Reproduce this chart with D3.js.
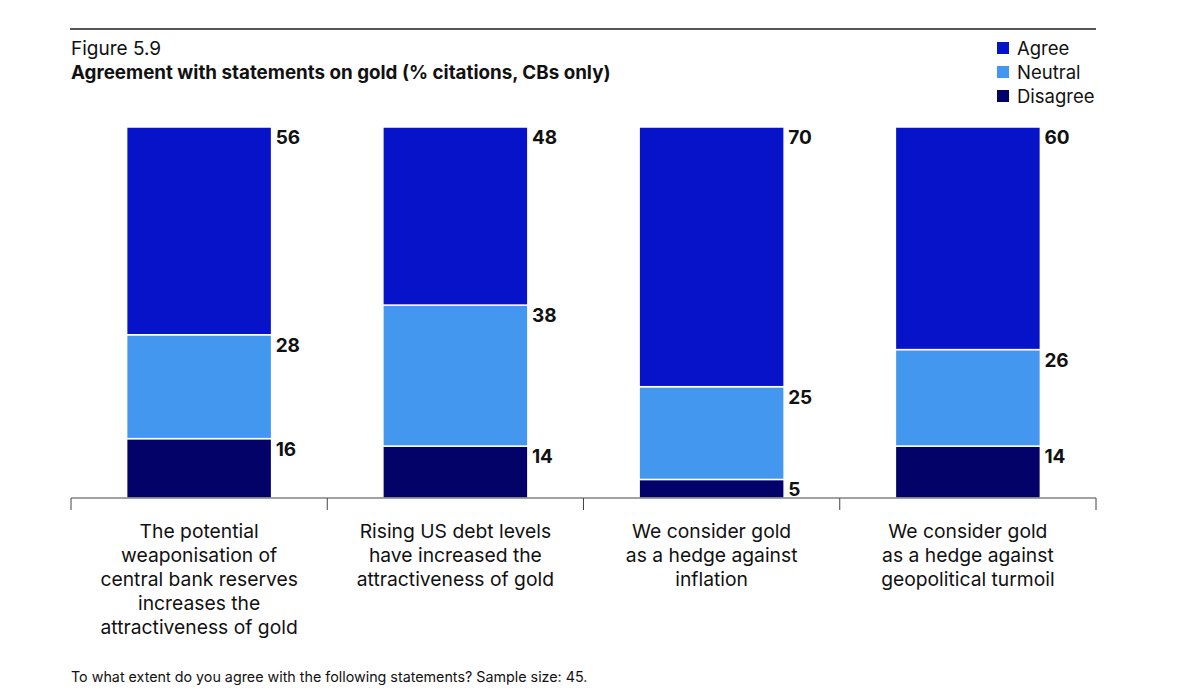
<!DOCTYPE html>
<html>
<head>
<meta charset="utf-8">
<script src="https://cdn.jsdelivr.net/npm/d3@7"></script>
<style>
  body { margin: 0; background: #fff; }
  text { font-family: "Inter", "Roboto", sans-serif; fill: #111; }
</style>
</head>
<body>
<div id="chart"></div>
<script>
// data
var categories = [
  ["The potential", "weaponisation of", "central bank reserves", "increases the", "attractiveness of gold"],
  ["Rising US debt levels", "have increased the", "attractiveness of gold"],
  ["We consider gold", "as a hedge against", "inflation"],
  ["We consider gold", "as a hedge against", "geopolitical turmoil"]
];
var seriesNames = ["Disagree", "Neutral", "Agree"];
var disagree = [16, 14, 5, 14];
var neutral = [28, 38, 25, 26];
var agree = [56, 48, 70, 60];
var legendOrder = ["Agree", "Neutral", "Disagree"];

var colors = {Agree: "#0713c8", Neutral: "#4497ee", Disagree: "#020268"};

var W = 1200, H = 700;
var margin = {top: 127, left: 71, right: 104, bottom: 202};
var width = W - margin.left - margin.right,
    height = H - margin.top - margin.bottom;

var svg = d3.select("#chart").append("svg")
  .attr("width", W).attr("height", H);

// top rule + titles
svg.append("line")
  .attr("x1", 70).attr("x2", 1096).attr("y1", 29).attr("y2", 29)
  .attr("stroke", "#555").attr("stroke-width", 2);
svg.append("text").attr("x", 71).attr("y", 55)
  .attr("font-size", 19).text("Figure 5.9");
svg.append("text").attr("x", 71).attr("y", 79)
  .attr("font-size", 18.8).attr("font-weight", "bold")
  .text("Agreement with statements on gold (% citations, CBs only)");

// legend
var legend = svg.append("g").attr("transform", "translate(997,42)");
legendOrder.forEach(function(name, i) {
  var g = legend.append("g").attr("transform", "translate(0," + i * 24 + ")");
  g.append("rect").attr("width", 12).attr("height", 12).attr("fill", colors[name]);
  g.append("text").attr("x", 20).attr("y", 12.5).attr("font-size", 18.5).text(name);
});

var chart = svg.append("g")
  .attr("transform", "translate(" + margin.left + "," + margin.top + ")");

var idx = d3.range(categories.length);
var x = d3.scaleBand().domain(idx).range([0, width]).paddingInner(0).paddingOuter(0);
var y = d3.scaleLinear().domain([0, 100]).range([height, 0]);

var table = idx.map(function(i) {
  return {i: i, Disagree: disagree[i], Neutral: neutral[i], Agree: agree[i]};
});
var stacked = d3.stack().keys(seriesNames)(table);

var barW = 145;
stacked.forEach(function(layer) {
  var g = chart.append("g");
  g.selectAll("rect").data(layer).enter().append("rect")
    .attr("x", function(d) { return x(d.data.i) + (x.bandwidth() - barW) / 2; })
    .attr("width", barW)
    .attr("y", function(d) { return y(d[1]); })
    .attr("height", function(d) { return y(d[0]) - y(d[1]); })
    .attr("fill", colors[layer.key])
    .attr("stroke", "#fff").attr("stroke-width", 1.5);
  g.selectAll("text").data(layer).enter().append("text")
    .attr("x", function(d) { return x(d.data.i) + (x.bandwidth() + barW) / 2 + 4; })
    .attr("y", function(d) { return y(d[1]) + 17; })
    .attr("font-size", 19).attr("font-weight", "bold")
    .text(function(d) { return d.data[layer.key]; });
});

// x axis with tick marks at band edges
var axis = chart.append("g").attr("transform", "translate(0," + height + ")");
axis.append("line").attr("x1", 0).attr("x2", width)
  .attr("stroke", "#444").attr("stroke-width", 1);
var edges = idx.map(function(i) { return x(i); }).concat([width]);
axis.selectAll("line.tick").data(edges).enter().append("line")
  .attr("class", "tick")
  .attr("x1", function(d) { return d; }).attr("x2", function(d) { return d; })
  .attr("y1", 0).attr("y2", 12)
  .attr("stroke", "#444").attr("stroke-width", 1);

axis.selectAll("text.cat").data(idx).enter().append("text")
  .attr("class", "cat")
  .attr("text-anchor", "middle")
  .attr("font-size", 19.3)
  .attr("transform", function(i) { return "translate(" + (x(i) + x.bandwidth() / 2) + ",40)"; })
  .each(function(i) {
    var t = d3.select(this);
    categories[i].forEach(function(line, k) {
      t.append("tspan").attr("x", 0).attr("y", k * 24).text(line);
    });
  });

// footer
svg.append("text").attr("x", 71).attr("y", 682)
  .attr("font-size", 14.3).text("To what extent do you agree with the following statements? Sample size: 45.");
</script>
</body>
</html>
